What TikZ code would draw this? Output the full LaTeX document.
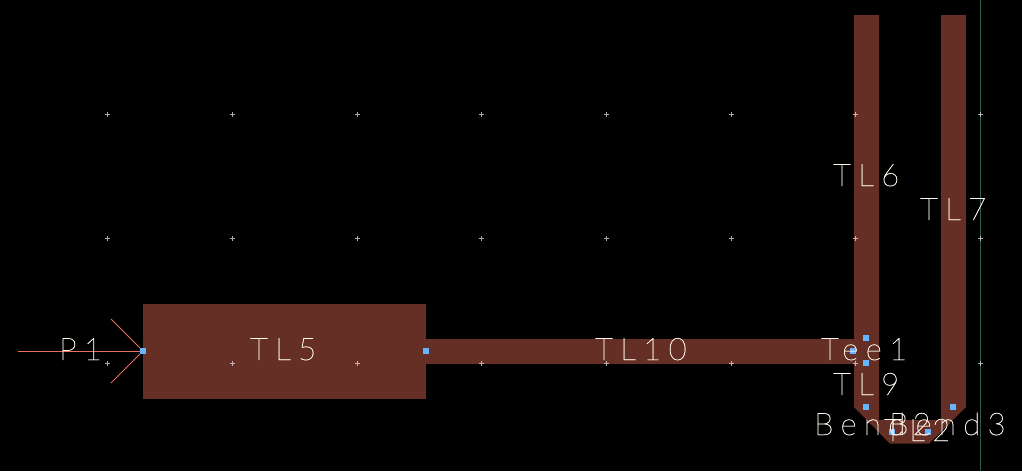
\documentclass[tikz,border=0pt]{standalone}
\usepackage{fontspec}
\setmainfont{Lato}[UprightFont=* Thin,FakeBold=1.2,LetterSpace=24]
\usetikzlibrary{calc}
\definecolor{trace}{HTML}{662F25}
\definecolor{pin}{HTML}{66B3FF}
\definecolor{portline}{HTML}{E8705F}
\definecolor{gridmark}{HTML}{D8D8D8}
\definecolor{axisline}{HTML}{2F5A58}
\definecolor{labeltext}{HTML}{FFF8EC}
\tikzset{
    x=1pt, y=-1pt,
    strip/.style={fill=trace, draw=none},
    pinmark/.style={fill=pin, draw=none, minimum size=6pt, inner sep=0pt, outer sep=0pt, rectangle},
    gridcross/.style={gridmark, line width=0.8pt, opacity=0.8},
    portwire/.style={portline, line width=0.8pt},
    partname/.style={labeltext, font=\fontsize{31}{31}\selectfont, inner sep=0pt, anchor=base west}
}

\begin{document}
\begin{tikzpicture}
    \useasboundingbox[fill=black] (0, 0) rectangle (1022, 471);
    % traces
    \fill[strip] (143, 304) rectangle (426, 399);
    \fill[strip] (426, 339) rectangle (854, 364);
    \fill[strip] (854, 15) -- (879, 15) -- (879, 420) -- (941, 420) -- (941, 15) -- (966, 15)
        -- (966, 407) -- (929, 443.7) -- (890, 443.7) -- (854, 407) -- cycle;
    % grid
    \draw[axisline, line width=0.8pt] (980.5, 0) -- (980.5, 471);
    \foreach \gx in {107, 232, 357, 481, 606, 731, 855.5, 980.5}
        \foreach \gy in {114, 238, 363}
            \draw[gridcross] (\gx-2.5, \gy) -- (\gx+2.5, \gy) (\gx, \gy-2.5) -- (\gx, \gy+2.5);
    % port
    \coordinate (wireend) at (18, 351);
    \coordinate (barbup) at (111, 319);
    \coordinate (barbdown) at (111, 383);
    \node[pinmark] (pinP) at (143, 351) {};
    \draw[portwire] (wireend) -- (pinP.center);
    \draw[portwire] (barbup) -- (pinP.center);
    \draw[portwire] (barbdown) -- (pinP.center);
    \node[pinmark] at (143, 351) {};
    % pins
    \node[pinmark] (pinA) at (426, 351) {};
    \node[pinmark] (pinB) at (866, 338) {};
    \node[pinmark] (pinC) at (853, 351) {};
    \node[pinmark] (pinD) at (866, 363) {};
    \node[pinmark] (pinE) at (866, 407) {};
    \node[pinmark] (pinF) at (892, 432) {};
    \node[pinmark] (pinG) at (928, 432) {};
    \node[pinmark] (pinH) at (953, 407) {};
    % labels
    \node[partname] (P1) at (59, 360) {P1};
    \node[partname] (TL5) at (250, 360) {TL5};
    \node[partname] (TL10) at (595, 360) {TL10};
    \node[partname] (TL6) at (833, 186) {TL6};
    \node[partname] (TL7) at (920, 220) {TL7};
    \node[partname] (Tee1) at (821, 360) {Tee1};
    \node[partname] (TL9) at (833, 395) {TL9};
    \node[partname] (Bend2) at (814, 435) {Bend2};
    \node[partname] (Bend3) at (889, 435) {Bend3};
    \node[partname] (TL2) at (884, 441) {TL2};
\end{tikzpicture}
\end{document}
